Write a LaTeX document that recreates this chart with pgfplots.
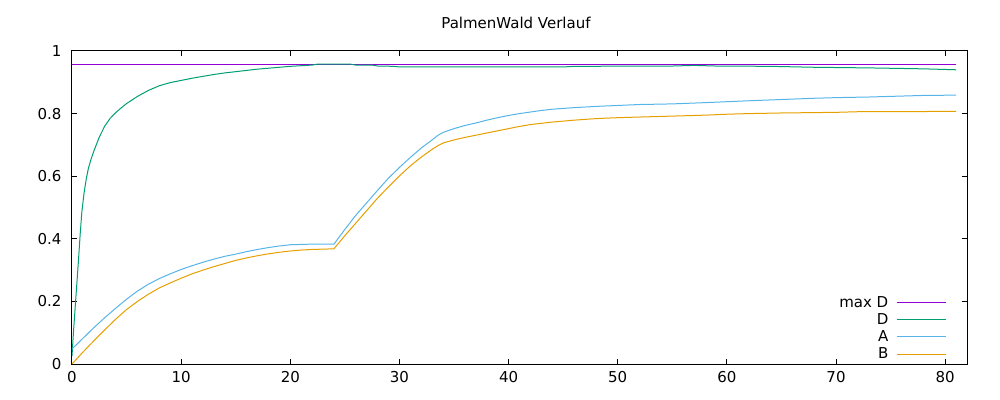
\documentclass[border=0pt]{standalone}
\usepackage{fontspec}
\setmainfont{DejaVu Sans}
\usepackage{pgfplots}
\pgfplotsset{compat=1.18}
\definecolor{cmaxd}{RGB}{148,0,211}
\definecolor{cd}{RGB}{0,158,115}
\definecolor{ca}{RGB}{86,180,233}
\definecolor{cb}{RGB}{230,159,0}
\begin{document}
\begin{tikzpicture}
\useasboundingbox (-72bp,-36bp) rectangle (928bp,364bp);
\begin{axis}[
  at={(0,0)}, anchor=south west,
  scale only axis, width=895bp, height=313bp,
  xmin=0, xmax=82, ymin=0, ymax=1,
  xtick={0,10,...,80}, ytick={0,0.2,0.4,0.6,0.8,1},
  font=\fontsize{15bp}{17bp}\selectfont,
  /pgf/number format/assume math mode=true,
  axis line style={line width=1bp, black},
  major tick length=5bp,
  tick style={line width=1bp, black},
  xticklabel style={yshift=-4bp},
  yticklabel style={xshift=-7bp},
  title={PalmenWald Verlauf},
  every axis title shift=0pt,
  title style={at={(0.5,1)}, anchor=base, yshift=22bp, xshift=-3.5bp},
  legend style={draw=none, fill=none, inner sep=0pt, row sep=1.7bp, column sep=7bp,
    at={(rel axis cs:1,0)}, anchor=south east, xshift=-20bp, yshift=2bp,
    nodes={inner sep=1.5bp}},
  legend cell align=right,
  legend plot pos=right,
  every axis plot/.append style={line width=1bp, no markers},
]
\addlegendimage{legend image code/.code={\draw[cmaxd, line width=1bp] (0bp,0bp) -- (49bp,0bp);}}
\addlegendimage{legend image code/.code={\draw[cd, line width=1bp] (0bp,0bp) -- (49bp,0bp);}}
\addlegendimage{legend image code/.code={\draw[ca, line width=1bp] (0bp,0bp) -- (49bp,0bp);}}
\addlegendimage{legend image code/.code={\draw[cb, line width=1bp] (0bp,0bp) -- (49bp,0bp);}}
\legend{max D, D, A, B}
\addplot[cmaxd, forget plot] coordinates {(0,0.958) (81,0.958)};
\addplot[cd, forget plot] coordinates {
(0,0.025) (0.15,0.11) (0.3,0.185) (0.45,0.26) (0.6,0.335) (0.75,0.415) (0.9,0.485)
(1.1,0.545) (1.3,0.59) (1.5,0.625) (1.75,0.655) (2,0.68) (2.5,0.725) (3,0.76)
(3.5,0.785) (4,0.803) (4.5,0.818) (5,0.832) (6,0.855) (7,0.874) (8,0.889) (9,0.899)
(10,0.906) (11,0.913) (12,0.919) (13,0.925) (14,0.93) (15,0.934) (16,0.938) (17,0.942)
(18,0.945) (19,0.948) (20,0.951) (21,0.953) (22,0.955) (22.5,0.958) (25.5,0.958)
(26,0.955) (27.5,0.955) (28,0.952) (29.5,0.951) (30,0.949) (45,0.949) (46,0.951)
(55,0.952) (57,0.954) (59,0.952) (64,0.951) (68,0.948) (73,0.946) (78,0.943) (81,0.94)};
\addplot[ca, forget plot] coordinates {
(0,0.048) (1,0.082) (2,0.116) (3,0.148) (4,0.178) (5,0.207) (6,0.233) (7,0.255)
(8,0.273) (9,0.288) (10,0.302) (11,0.314) (12,0.325) (13,0.335) (14,0.344) (15,0.351)
(16,0.359) (17,0.366) (18,0.372) (19,0.377) (20,0.381) (21,0.382) (22,0.383) (24,0.383)
(25,0.43) (26,0.475) (27,0.515) (28,0.555) (29,0.594) (30,0.628) (31,0.66) (32,0.69)
(33,0.716) (33.5,0.73) (34,0.74) (35,0.752) (36,0.762) (37,0.770) (38,0.779) (39,0.787) (40,0.794)
(41,0.800) (42,0.805) (43,0.810) (44,0.814) (46,0.819) (48,0.823) (50,0.826) (52,0.829)
(55,0.831) (58,0.835) (60,0.838) (62,0.841) (65,0.845) (68,0.849) (70,0.851) (73,0.853)
(76,0.856) (78,0.858) (81,0.859)};
\addplot[cb, forget plot] coordinates {
(0,0.0) (1,0.038) (2,0.074) (3,0.109) (4,0.143) (5,0.174) (6,0.200) (7,0.223) (8,0.243)
(9,0.259) (10,0.274) (11,0.288) (12,0.30) (13,0.311) (14,0.321) (15,0.331) (16,0.339)
(17,0.346) (18,0.352) (19,0.357) (20,0.361) (21,0.364) (22,0.366) (23,0.367) (24,0.368)
(25,0.41) (26,0.45) (27,0.49) (28,0.53) (29,0.566) (30,0.601) (31,0.633) (32,0.661)
(33,0.686) (33.5,0.697) (34,0.706) (35,0.716) (36,0.724) (37,0.731) (38,0.738) (39,0.745) (40,0.752)
(41,0.759) (42,0.765) (43,0.769) (44,0.773) (46,0.779) (48,0.784) (50,0.787) (52,0.789)
(55,0.792) (58,0.795) (60,0.798) (62,0.800) (65,0.802) (70,0.804) (72,0.806) (81,0.807)};
\end{axis}
\end{tikzpicture}
\end{document}
